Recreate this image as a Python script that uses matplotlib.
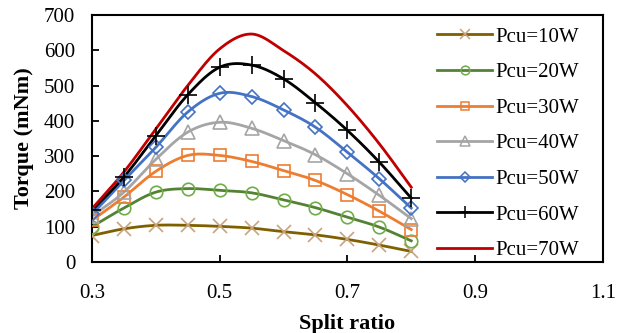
import numpy as np
import matplotlib
matplotlib.use("Agg")
import matplotlib.pyplot as plt
from matplotlib.lines import Line2D

plt.rcParams['font.family'] = ['Liberation Serif', 'DejaVu Serif']

split_ratio = [0.3, 0.35, 0.4, 0.45, 0.5, 0.55, 0.6, 0.65, 0.7, 0.75, 0.8]
labels = ['Pcu=10W', 'Pcu=20W', 'Pcu=30W', 'Pcu=40W', 'Pcu=50W', 'Pcu=60W', 'Pcu=70W']
torque_10 = [75, 94, 104, 104, 101, 96, 86, 77, 64, 48, 30]
torque_20 = [100, 153, 198, 208, 203, 196, 176, 154, 127, 99, 60]
torque_30 = [118, 184, 257, 302, 302, 285, 259, 231, 191, 144, 92]
torque_40 = [130, 198, 291, 368, 396, 379, 344, 304, 250, 189, 123]
torque_50 = [135, 231, 325, 425, 478, 469, 431, 382, 311, 236, 153]
torque_60 = [146, 241, 358, 474, 552, 558, 519, 451, 373, 283, 181]
torque_70 = [151, 255, 377, 500, 604, 646, 599, 533, 443, 335, 212]
series = [torque_10, torque_20, torque_30, torque_40, torque_50, torque_60, torque_70]

line_colors = ['#7F6000', '#548235', '#ED7D31', '#A5A5A5', '#4472C4', '#000000', '#C00000']
marker_colors = ['#C9A27E', '#70AD47', '#ED7D31', '#A5A5A5', '#4472C4', '#000000', '#C00000']
markers = ['x', 'o', 's', '^', 'D', '+', None]
msizes = [10, 9, 9, 10, 7, 13, 0]


def smooth(x, y, n=20):
    # Catmull-Rom style smoothing (like spreadsheet smoothed lines)
    x = np.asarray(x, float)
    y = np.asarray(y, float)
    px = np.concatenate([[2 * x[0] - x[1]], x, [2 * x[-1] - x[-2]]])
    py = np.concatenate([[2 * y[0] - y[1]], y, [2 * y[-1] - y[-2]]])
    xs, ys = [], []
    t = np.linspace(0, 1, n, endpoint=False)
    for i in range(1, len(px) - 2):
        for P, out in ((px[i - 1:i + 3], xs), (py[i - 1:i + 3], ys)):
            a, b, c, d = P
            out.extend(0.5 * ((2 * b) + (-a + c) * t + (2 * a - 5 * b + 4 * c - d) * t ** 2
                              + (-a + 3 * b - 3 * c + d) * t ** 3))
    xs.append(x[-1])
    ys.append(y[-1])
    return np.array(xs), np.array(ys)


fig = plt.figure(figsize=(6.24, 3.33), dpi=100)
ax = fig.add_axes([0.1474, 0.2132, 0.8186, 0.7418])

for ys, lab, lc, mc, mk, ms in zip(series, labels, line_colors, marker_colors, markers, msizes):
    sx, sy = smooth(split_ratio, ys)
    ax.plot(sx, sy, color=lc, lw=2.0, zorder=2)
    if mk is not None:
        ax.plot(split_ratio, ys, linestyle='none', marker=mk, ms=ms, mfc='none', mec=mc,
                mew=1.2, zorder=3)

handles = []
for lc, mc, mk, ms in zip(line_colors, marker_colors, markers, msizes):
    handles.append(Line2D([0], [0], color=lc, lw=2.0, marker=mk if mk else None,
                          ms=ms * 0.7, mfc='none', mec=mc, mew=1.1))
ax.legend(handles, labels, loc='upper left', bbox_to_anchor=(0.66, 0.985), frameon=False,
          fontsize=15, handlelength=2.6, handletextpad=0.2, labelspacing=0.77, borderaxespad=0)

ax.set_xlim(0.3, 1.1)
ax.set_ylim(0, 700)
ax.set_xticks([0.3, 0.5, 0.7, 0.9, 1.1])
ax.set_yticks(range(0, 701, 100))
ax.tick_params(direction='in', length=5, width=1.3, labelsize=15)
ax.tick_params(axis='x', pad=16)
ax.tick_params(axis='y', pad=12)
for s in ax.spines.values():
    s.set_linewidth(1.5)
ax.set_xlabel('Split ratio', fontsize=16, fontweight='bold', labelpad=8)
ax.set_ylabel('Torque (mNm)', fontsize=16, fontweight='bold', labelpad=7)

fig.savefig('out.png', dpi=100)
